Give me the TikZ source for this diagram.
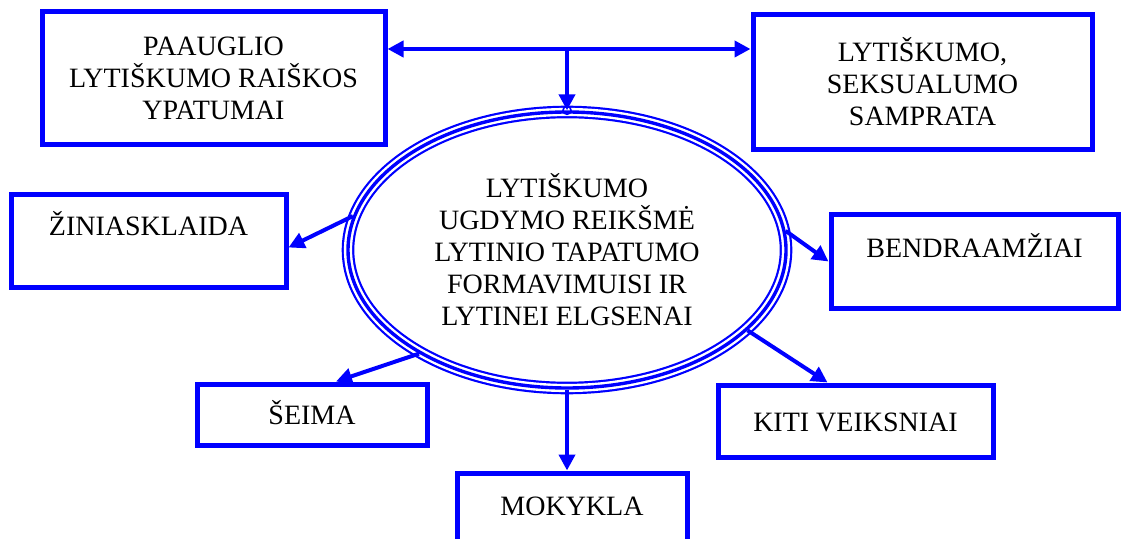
\documentclass[tikz,border=0pt]{standalone}
\usepackage{fontspec}
\setmainfont{Liberation Serif}
\usetikzlibrary{shapes.geometric}
\usetikzlibrary{arrows.meta}
\usetikzlibrary{calc}

\tikzset{
	box/.style={draw=blue, line width=2.5pt, align=center, inner sep=2pt, font=\fontsize{14}{16}\selectfont},
	onel/.style={box, text height=10pt, text depth=#1},
	onel/.default=0pt,
	conn/.style={draw=blue, line width=2pt, ->},
}

\begin{document}
\begin{tikzpicture}[x=0.5pt, y=-0.5pt, >={Triangle[length=8pt,width=8pt]}]
	\useasboundingbox (0,0) rectangle (1122,539);
	
	%ellisse
	\node[ellipse, draw=blue, line width=1.7pt, minimum width=219pt, minimum height=138pt,
	preaction={draw=blue, line width=6.3pt}, preaction={draw=white, line width=4.1pt},
	align=center, font=\fontsize{14}{16}\selectfont] (ell) at (567,250)
	{LYTIŠKUMO\\UGDYMO REIKŠMĖ\\LYTINIO TAPATUMO\\FORMAVIMUISI IR\\LYTINEI ELGSENAI};
	
	%riquadri
	\node[box, minimum width=171.5pt, minimum height=66.5pt] (tl) at (213.5,78.5) {PAAUGLIO\\LYTIŠKUMO RAIŠKOS\\YPATUMAI};
	\node[box, minimum width=169.5pt, minimum height=67.5pt] (tr) at (922.5,82) {LYTIŠKUMO,\\SEKSUALUMO\\SAMPRATA};
	\node[onel=16pt, minimum width=137.5pt, minimum height=46.5pt] (zin) at (148.5,241.5) {ŽINIASKLAIDA};
	\node[onel=14pt, minimum width=143.5pt, minimum height=46.5pt] (ben) at (974.5,261.5) {BENDRAAMŽIAI};
	\node[onel, minimum width=115pt, minimum height=30.5pt] (sei) at (312,414.5) {ŠEIMA};
	\node[onel=13pt, minimum width=115pt, minimum height=45pt] (mok) at (572,518) {MOKYKLA};
	\node[onel, minimum width=137.5pt, minimum height=36pt] (kit) at (855.5,421) {KITI VEIKSNIAI};
	
	%frecce
	\coordinate (hub) at (567,49);
	\draw[conn, <->] (tl.east |- hub) -- (tr.west |- hub);
	\draw[conn] (hub) -- (ell.north);
	\draw[blue, line width=0.8pt] (ell.north) circle (2pt);
	\draw[conn] (ell.171) -- ([yshift=-3pt]zin.east);
	\draw[conn] (ell.5) -- (ben.west);
	\draw[conn] (ell.215) -- ([xshift=12pt]sei.north);
	\draw[conn] (ell.south) -- (ell.south |- mok.north);
	\draw[conn] (ell.336) -- ([xshift=-14pt]kit.north);
	
\end{tikzpicture}
\end{document}
